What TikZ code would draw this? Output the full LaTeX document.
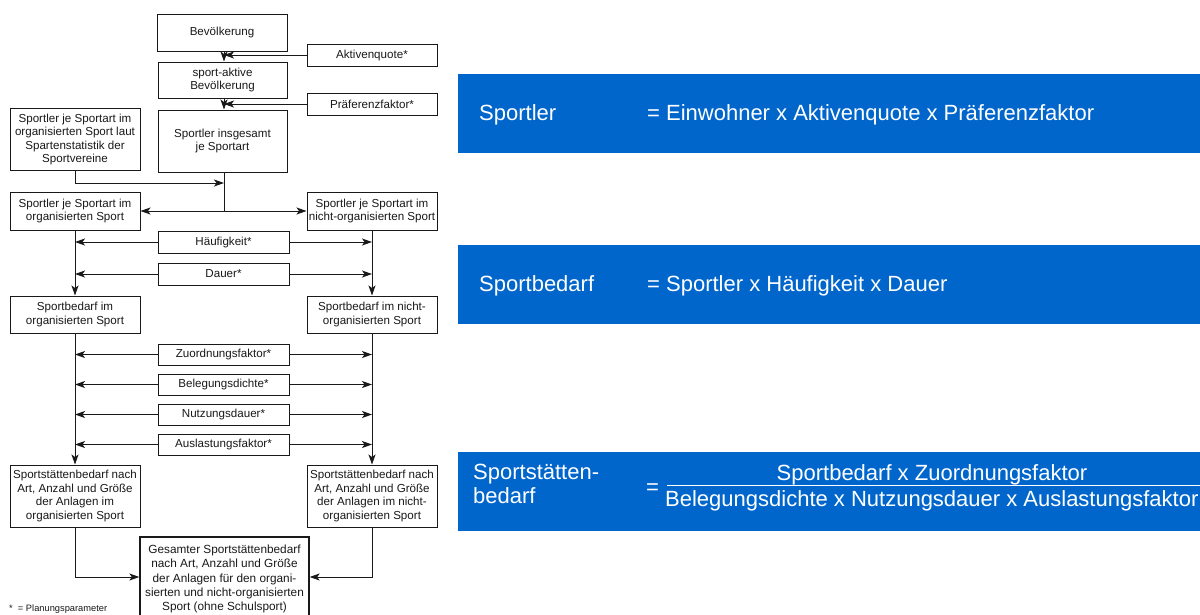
\documentclass[tikz,border=0pt]{standalone}
\usepackage{fontspec}
\setmainfont{Liberation Sans}
\usetikzlibrary{arrows.meta}
\definecolor{bandblue}{RGB}{0,102,204}
\definecolor{ink}{RGB}{25,25,25}
\tikzset{
  box/.style={draw=ink, line width=1pt, rectangle, align=center, inner xsep=0.5pt, inner ysep=1pt,
    font=\fontsize{11.6}{13.6}\selectfont, text=ink},
  wbox/.style={box, minimum width=130pt},
  pbox/.style={box, minimum width=131pt, minimum height=22pt},
  conn/.style={draw=ink, line width=1pt},
  arr/.style={conn, -{Stealth[length=10pt,width=7pt,inset=2.5pt]}},
  band/.style={fill=bandblue},
  btext/.style={text=white, font=\fontsize{22}{24}\selectfont, inner sep=0pt}
}
\begin{document}
\begin{tikzpicture}[x=1pt,y=-1pt]
\useasboundingbox (0,0) rectangle (1200,614);
\clip (0,0) rectangle (1200,614);
\fill[white] (0,0) rectangle (1200,614);

% ---- left flow chart ----
\node[box, minimum width=130pt, minimum height=37pt] (bev) at (222,32.5) {Bevölkerung};
\node[box, minimum width=130pt, minimum height=22pt] (akt) at (372,55) {Aktivenquote*};
\node[box, minimum width=129pt, minimum height=36pt] (spa) at (222.5,80) {sport-aktive\\Bevölkerung};
\node[box, minimum width=130pt, minimum height=22pt] (pra) at (372,104) {Präferenzfaktor*};
\node[box, minimum width=129pt, minimum height=62pt] (sig) at (222.5,141) {Sportler insgesamt\\je Sportart};
\node[wbox, minimum height=62pt] (lst) at (75,139.5) {Sportler je Sportart im\\organisierten Sport laut\\Spartenstatistik der\\Sportvereine};
\node[wbox, minimum height=38pt] (sjo) at (75,211) {Sportler je Sportart im\\organisierten Sport};
\node[wbox, minimum height=38pt] (sjn) at (372,211) {Sportler je Sportart im\\nicht-organisierten Sport};
\node[pbox] (hau) at (223.5,242) {Häufigkeit*};
\node[pbox] (dau) at (223.5,274) {Dauer*};
\node[wbox, minimum height=37pt] (sbo) at (75,314.5) {Sportbedarf im\\organisierten Sport};
\node[wbox, minimum height=37pt] (sbn) at (372,314.5) {Sportbedarf im nicht-\\organisierten Sport};
\node[pbox, minimum height=21pt] (zuo) at (223.5,354.5) {Zuordnungsfaktor*};
\node[pbox, minimum height=21pt] (bel) at (223.5,384.5) {Belegungsdichte*};
\node[pbox, minimum height=21pt] (nut) at (223.5,414.5) {Nutzungsdauer*};
\node[pbox, minimum height=21pt] (aus) at (223.5,444.5) {Auslastungsfaktor*};
\node[wbox, minimum height=62pt] (sso) at (75,496) {Sportstättenbedarf nach\\Art, Anzahl und Größe\\der Anlagen im\\organisierten Sport};
\node[wbox, minimum height=62pt] (ssn) at (372,496) {Sportstättenbedarf nach\\Art, Anzahl und Größe\\der Anlagen im nicht-\\organisierten Sport};
\node[box, line width=1.3pt, minimum width=169pt, minimum height=84pt, font=\fontsize{11.8}{14.4}\selectfont] (ges) at (224.5,579) {Gesamter Sportstättenbedarf\\nach Art, Anzahl und Größe\\der Anlagen für den organi-\\sierten und nicht-organisierten\\Sport (ohne Schulsport)};
\node[anchor=base west, inner sep=0pt, text=ink, font=\fontsize{9.3}{10}\selectfont] (foot) at (9,611.5) {*\ \ = Planungsparameter};

\coordinate (j1) at (224,211);
\coordinate (j2) at (224,183);

\draw[arr] (bev.south -| 224,0) -- (spa.north -| 224,0);
\draw[arr] (akt.west) -- (akt.west -| 224,0);
\draw[arr] (spa.south -| 224,0) -- (sig.north -| 224,0);
\draw[arr] (pra.west) -- (pra.west -| 224,0);
\draw[conn] (sig.south -| 224,0) -- (j1);
\draw[arr] (lst.south) |- (j2);
\draw[arr] (j1) -- (sjo.east);
\draw[arr] (j1) -- (sjn.west);

\draw[arr] (sjo.south) -- (sbo.north);
\draw[arr] (sjn.south) -- (sbn.north);
\foreach \p in {hau,dau}{
  \draw[arr] (\p.west) -- (\p.west -| sjo.south);
  \draw[arr] (\p.east) -- (\p.east -| sjn.south);
}
\draw[arr] (sbo.south) -- (sso.north);
\draw[arr] (sbn.south) -- (ssn.north);
\foreach \p in {zuo,bel,nut,aus}{
  \draw[arr] (\p.west) -- (\p.west -| sbo.south);
  \draw[arr] (\p.east) -- (\p.east -| sbn.south);
}
\draw[arr] (sso.south) |- (ges.west |- 0,577);
\draw[arr] (ssn.south) |- (ges.east |- 0,577);

% ---- right blue formula bands ----
\fill[band] (458,74) rectangle (1210,153);
\node[btext, anchor=base west] (t1a) at (479,120) {Sportler};
\node[btext, anchor=base west] (t1b) at (647,120) {= Einwohner x Aktivenquote x Präferenzfaktor};

\fill[band] (458,245) rectangle (1210,324);
\node[btext, anchor=base west] (t2a) at (479,291) {Sportbedarf};
\node[btext, anchor=base west] (t2b) at (647,291) {= Sportler x Häufigkeit x Dauer};

\fill[band] (458,452) rectangle (1210,531);
\node[btext, anchor=base west] (t3a) at (473,479) {Sportstätten-};
\node[btext, anchor=base west] (t3b) at (473,503) {bedarf};
\node[btext, anchor=base west] (t3eq) at (646,494) {=};
\node[btext, anchor=base] (t3n) at (932,480) {Sportbedarf x Zuordnungsfaktor};
\node[btext, anchor=base west] (t3d) at (665,506) {Belegungsdichte x Nutzungsdauer x Auslastungsfaktor};
\draw[white, line width=1.5pt] (667,485.5) -- (1210,485.5);
\end{tikzpicture}
\end{document}
